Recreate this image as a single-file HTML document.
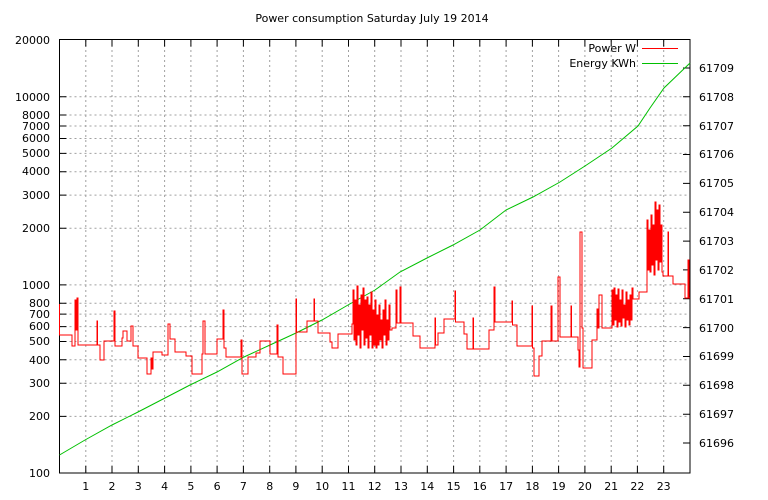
<!DOCTYPE html>
<html><head><meta charset="utf-8"><style>html,body{margin:0;padding:0;background:#fff}svg{display:block}text{font-family:"DejaVu Sans","Liberation Sans",sans-serif;font-size:11px;fill:#000}</style></head><body>
<svg width="768" height="500" viewBox="0 0 768 500" xmlns="http://www.w3.org/2000/svg">
<rect width="768" height="500" fill="#fff"/>
<text x="372" y="22" text-anchor="middle">Power consumption Saturday July 19 2014</text>
<g stroke="#a0a0a0" stroke-width="1" stroke-dasharray="2,3" fill="none">
<path d="M85.8,40V473M112,40V473M138.3,40V473M164.6,40V473M190.9,40V473M217.1,40V473M243.4,40V473M269.7,40V473M295.9,40V473M322.2,40V473M348.5,40V473M374.7,40V473M401,40V473M427.3,40V473M453.6,40V473M479.8,40V473M506.1,40V473M532.4,40V473M558.6,40V473M584.9,40V473M611.2,40V473M637.4,40V473M663.7,40V473"/>
<path d="M59.5,416.4H690M59.5,383.3H690M59.5,359.8H690M59.5,341.5H690M59.5,326.6H690M59.5,314.1H690M59.5,303.2H690M59.5,284.9H690M59.5,228.3H690M59.5,195.1H690M59.5,171.7H690M59.5,153.4H690M59.5,138.5H690M59.5,126H690M59.5,115H690M59.5,96.8H690"/>
</g>
<g stroke="#000" stroke-width="1" fill="none">
<path d="M59.5,416.4h7M59.5,383.3h7M59.5,359.8h7M59.5,341.5h7M59.5,326.6h7M59.5,314.1h7M59.5,303.2h7M59.5,284.9h7M59.5,228.3h7M59.5,195.1h7M59.5,171.7h7M59.5,153.4h7M59.5,138.5h7M59.5,126h7M59.5,115h7M59.5,96.8h7"/>
<path d="M690,443h-7M690,414.2h-7M690,385.3h-7M690,356.5h-7M690,327.6h-7M690,298.8h-7M690,269.9h-7M690,241.1h-7M690,212.2h-7M690,183.4h-7M690,154.5h-7M690,125.7h-7M690,96.8h-7M690,68h-7"/>
<path d="M85.8,473v-7M112,473v-7M138.3,473v-7M164.6,473v-7M190.9,473v-7M217.1,473v-7M243.4,473v-7M269.7,473v-7M295.9,473v-7M322.2,473v-7M348.5,473v-7M374.7,473v-7M401,473v-7M427.3,473v-7M453.6,473v-7M479.8,473v-7M506.1,473v-7M532.4,473v-7M558.6,473v-7M584.9,473v-7M611.2,473v-7M637.4,473v-7M663.7,473v-7"/>
<path d="M85.8,39.5v7M112,39.5v7M138.3,39.5v7M164.6,39.5v7M190.9,39.5v7M217.1,39.5v7M243.4,39.5v7M269.7,39.5v7M295.9,39.5v7M322.2,39.5v7M348.5,39.5v7M374.7,39.5v7M401,39.5v7M427.3,39.5v7M453.6,39.5v7M479.8,39.5v7M506.1,39.5v7M532.4,39.5v7M558.6,39.5v7M584.9,39.5v7M611.2,39.5v7M637.4,39.5v7M663.7,39.5v7"/>
<rect x="59.5" y="39.5" width="630.5" height="433.5"/>
</g>
<g text-anchor="end">
<text x="50" y="44">20000</text><text x="50" y="101">10000</text><text x="50" y="119">8000</text><text x="50" y="130">7000</text><text x="50" y="142">6000</text><text x="50" y="157">5000</text><text x="50" y="175">4000</text><text x="50" y="199">3000</text><text x="50" y="232">2000</text><text x="50" y="289">1000</text><text x="50" y="307">800</text><text x="50" y="318">700</text><text x="50" y="330">600</text><text x="50" y="345">500</text><text x="50" y="364">400</text><text x="50" y="387">300</text><text x="50" y="420">200</text><text x="50" y="477">100</text>
</g>
<g>
<text x="699" y="447">61696</text><text x="699" y="418">61697</text><text x="699" y="389">61698</text><text x="699" y="360">61699</text><text x="699" y="332">61700</text><text x="699" y="303">61701</text><text x="699" y="274">61702</text><text x="699" y="245">61703</text><text x="699" y="216">61704</text><text x="699" y="187">61705</text><text x="699" y="158">61706</text><text x="699" y="130">61707</text><text x="699" y="101">61708</text><text x="699" y="72">61709</text>
</g>
<g text-anchor="middle">
<text x="85.8" y="490">1</text><text x="112" y="490">2</text><text x="138.3" y="490">3</text><text x="164.6" y="490">4</text><text x="190.9" y="490">5</text><text x="217.1" y="490">6</text><text x="243.4" y="490">7</text><text x="269.7" y="490">8</text><text x="295.9" y="490">9</text><text x="322.2" y="490">10</text><text x="348.5" y="490">11</text><text x="374.7" y="490">12</text><text x="401" y="490">13</text><text x="427.3" y="490">14</text><text x="453.6" y="490">15</text><text x="479.8" y="490">16</text><text x="506.1" y="490">17</text><text x="532.4" y="490">18</text><text x="558.6" y="490">19</text><text x="584.9" y="490">20</text><text x="611.2" y="490">21</text><text x="637.4" y="490">22</text><text x="663.7" y="490">23</text>
</g>
<text x="636" y="52" text-anchor="end">Power W</text>
<text x="636" y="67" text-anchor="end">Energy KWh</text>
<path d="M642,48.5H678" stroke="#ff0000" stroke-width="1"/>
<path d="M642,63.5H678" stroke="#00c000" stroke-width="1"/>
<path fill="none" stroke="#00c000" stroke-width="1" d="M59.5,455 L85,440 L112,425 L138,412 L165,398 L190,385 L217,372 L244,357 L270,345 L296,333 L322,320 L348,305 L375,290 L400,272 L427,258 L453,245 L480,230 L506,210 L533,197 L560,182 L585,166 L612,148 L638,126 L650,108 L664,88 L690,63"/>
<path fill="none" stroke="#ff0000" stroke-width="1" d="M59.5,304 V335 H72 V346 H75 V300 H76 V330 H77 V298 H78 V345 H97 V321 H97.5 V345 H100 V360 H104 V341 H114 V311 H115 V346 H122 V338 H123 V331 H127 V341 H131 V326 H133 V346 H138 V358 H147 V374 H151 V358 H152 V369 H153 V352 H162 V355 H168 V324 H170 V339 H175 V352 H186 V356 H192 V374 H202 V354 H203 V321 H205 V354 H217 V339 H223 V310 H224 V348 H226 V357 H241 V340 H242 V374 H248 V357 H256 V353 H260 V341 H270 V354 H277 V325 H278 V357 H283 V374 H296 V299 H296.5 V332 H307 V321 H314 V299 H314.5 V321 H318 V333 H330 V342 H332 V348 H338 V334 H352 V324 H353
V290 H354 V340 H355 V300 H356 V345 H357 V286 H358 V335 H359 V305 H360 V348 H361 V295 H362 V330 H363 V288 H364 V345 H365 V300 H366 V338 H367 V297 H368 V348 H369 V305 H370 V335 H371 V292 H372 V348 H373 V310 H374 V345 H375 V300 H376 V348 H377 V315 H378 V345 H379 V305 H380 V340 H381 V320 H382 V348 H383 V310 H384 V335 H385 V300 H386 V345 H387 V320 H388 V340 H389 V305 H390 V330
H392 V328 H396 V290 H397 V323 H400 V287 H401 V323 H413 V336 H420 V348 H435 V318 H435.5 V345 H438 V333 H444 V319 H455 V291 H455.5 V322 H464 V334 H467 V349 H473 V318 H473.5 V349 H489 V330 H494 V287 H495 V322 H512 V301 H512.5 V325 H517 V346 H532 V306 H532.5 V348 H534 V376 H539 V356 H542 V341 H551 V306 H552 V341 H558 V277 H560 V337 H571 V306 H571.5 V337 H578 V350 H579 V367 H580 V232 H582 V328 H583 V368 H592 V340 H597 V309 H598 V328 H599 V295 H602 V328 H612
V290 H613 V325 H614 V288 H615 V320 H616 V295 H617 V327 H618 V289 H619 V322 H620 V300 H621 V326 H622 V290 H623 V318 H624 V305 H625 V327 H626 V292 H627 V320 H628 V300 H629 V325 H630 V295 H631 V320 H632 V288 H633 V299 H639 V292 H647
V220 H648 V270 H649 V230 H650 V272 H651 V215 H652 V265 H653 V225 H654 V275 H655 V202 H656 V260 H657 V210 H658 V270 H659 V205 H660 V262 H661 V225 H662 V272 H663 V276 H668 V232 H668.5 V276 H673 V284 H685 V298 H688 V260 H689 V298 H690"/>
</svg>
</body></html>
